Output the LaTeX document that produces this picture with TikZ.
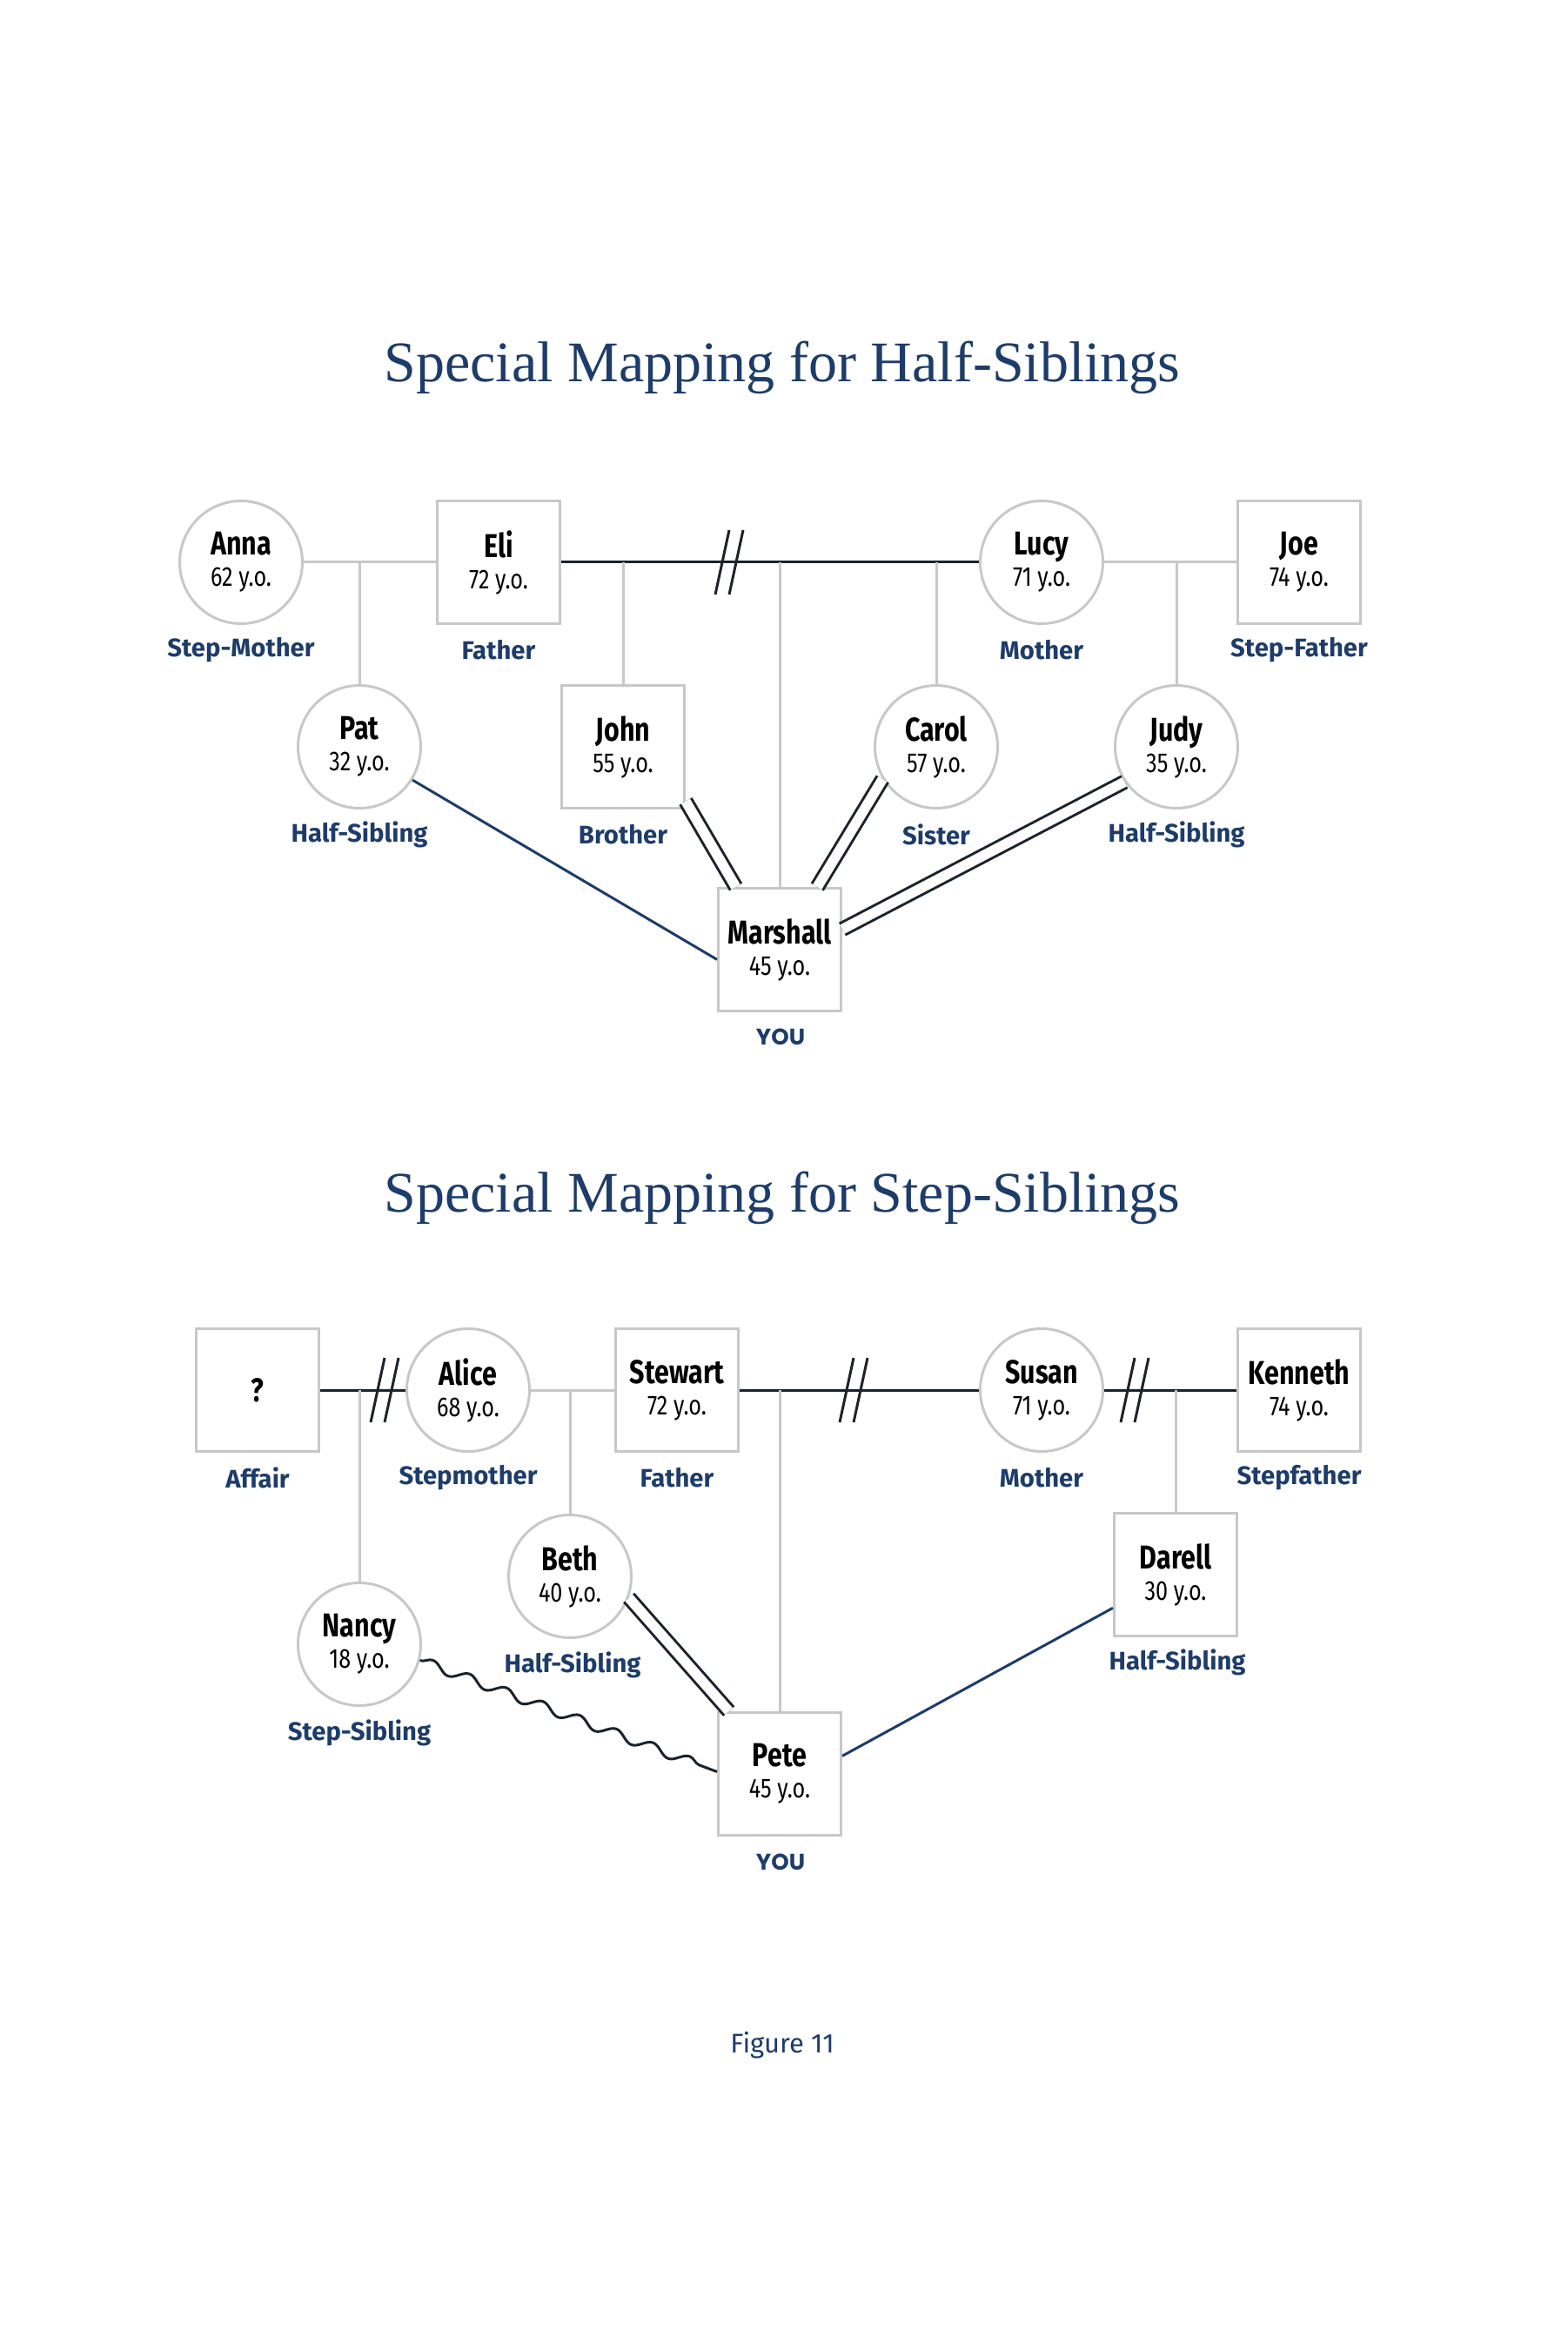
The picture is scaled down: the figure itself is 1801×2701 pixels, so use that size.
\documentclass[tikz,border=0pt]{standalone}
\usepackage{fontspec}
\setmainfont{Liberation Serif}
\newfontfamily\namefont{Fira Sans}[FakeStretch=0.8]
\newfontfamily\rolefont{Fira Sans}
\newfontfamily\youfont{Poppins}
\usetikzlibrary{positioning,decorations.pathmorphing}
\definecolor{navy}{HTML}{1D3C69}
\definecolor{kingrey}{HTML}{C8C8C8}
\definecolor{inkdark}{HTML}{1B232C}
\newcommand\pname[2]{{\bfseries\fontsize{7.6}{7.2}\selectfont #1}\\{\fontsize{6.3}{7.2}\selectfont #2 y.o.}}

\begin{document}
\begin{tikzpicture}[x=0.2pt,y=-0.2pt, male/.style={draw=kingrey, line width=0.6pt, fill=white, minimum size=28.2pt, inner sep=0pt, align=center, font=\namefont\fontsize{6.3}{7.2}\selectfont}, female/.style={male, circle}, role/.style={text=navy, font=\rolefont\bfseries\fontsize{5.85}{6.8}\selectfont}, you/.style={text=navy, font=\youfont\bfseries\fontsize{5.2}{6}\selectfont}, kin/.style={draw=kingrey, line width=0.6pt}, wed/.style={draw=inkdark, line width=0.6pt}, close/.style={draw=inkdark, line width=0.6pt, double=white, double distance=2.3pt}, half/.style={draw=navy, line width=0.6pt}, stepsib/.style={draw=inkdark, line width=0.6pt, decorate, decoration={snake, amplitude=1.1pt, segment length=9pt}}, ttl/.style={text=navy, font=\fontsize{13.2}{15}\selectfont}]
\useasboundingbox (0,0) rectangle (1801,2701);
% half-siblings
\node[ttl] (ttlhalf) at (899,422) {Special Mapping for Half-Siblings};
\node[female] (anna) at (277,646) {\pname{Anna}{62}};
\node[male] (eli) at (573,646) {\pname{Eli}{72}};
\node[female] (lucy) at (1197,646) {\pname{Lucy}{71}};
\node[male] (joe) at (1493,646) {\pname{Joe}{74}};
\node[female] (pat) at (413,858) {\pname{Pat}{32}};
\node[male] (john) at (716,858) {\pname{John}{55}};
\node[female] (carol) at (1076,858) {\pname{Carol}{57}};
\node[female] (judy) at (1352,858) {\pname{Judy}{35}};
\node[male] (marshall) at (896,1091) {\pname{Marshall}{45}};
\node[role] (ranna) at (277,747) {Step-Mother};
\node[role] (reli) at (573,747) {Father};
\node[role] (rlucy) at (1197,747) {Mother};
\node[role] (rjoe) at (1493,747) {Step-Father};
\node[role] (rpat) at (413,959) {Half-Sibling};
\node[role] (rjohn) at (716,959) {Brother};
\node[role] (rcarol) at (1076,959) {Sister};
\node[role] (rjudy) at (1352,959) {Half-Sibling};
\node[you] (ryou1) at (897,1191) {YOU};
\coordinate (ae) at (413,646);
\coordinate (el1) at (716,646);
\coordinate (el2) at (896,646);
\coordinate (el3) at (1076,646);
\coordinate (lj) at (1352,646);
\draw[kin] (anna) -- (eli);
\draw[wed] (eli) -- (lucy);
\draw[kin] (lucy) -- (joe);
\draw[kin] (ae) -- (pat);
\draw[kin] (el1) -- (john);
\draw[kin] (el2) -- (marshall);
\draw[kin] (el3) -- (carol);
\draw[kin] (lj) -- (judy);
\draw[half] (pat.-32) -- (marshall.189);
\draw[close] (john.-41) -- (marshall.125);
\draw[close] (carol.211) -- (marshall.59);
\draw[close] (judy.214) -- (marshall.18);
% step-siblings
\node[ttl] (ttlstep) at (899,1376) {Special Mapping for Step-Siblings};
\node[male] (affair) at (296,1597) {{\bfseries\fontsize{7.6}{8}\selectfont ?}};
\node[female] (alice) at (538,1597) {\pname{Alice}{68}};
\node[male] (stewart) at (778,1597) {\pname{Stewart}{72}};
\node[female] (susan) at (1197,1597) {\pname{Susan}{71}};
\node[male] (kenneth) at (1493,1597) {\pname{Kenneth}{74}};
\node[female] (nancy) at (413,1889) {\pname{Nancy}{18}};
\node[female] (beth) at (655,1811) {\pname{Beth}{40}};
\node[male] (darell) at (1351,1809) {\pname{Darell}{30}};
\node[male] (pete) at (896,2038) {\pname{Pete}{45}};
\node[role] (raffair) at (296,1698) {Affair};
\node[role] (ralice) at (538,1698) {Stepmother};
\node[role] (rstewart) at (778,1698) {Father};
\node[role] (rsusan) at (1197,1698) {Mother};
\node[role] (rkenneth) at (1493,1698) {Stepfather};
\node[role] (rnancy) at (413,1991) {Step-Sibling};
\node[role] (rbeth) at (658,1913) {Half-Sibling};
\node[role] (rdarell) at (1353,1910) {Half-Sibling};
\node[you] (ryou2) at (897,2139) {YOU};
\coordinate (aa) at (413,1597);
\coordinate (as) at (655,1597);
\coordinate (ss) at (896,1597);
\coordinate (sk) at (1351,1597);
\draw[wed] (affair) -- (alice);
\draw[kin] (alice) -- (stewart);
\draw[wed] (stewart) -- (susan);
\draw[wed] (susan) -- (kenneth);
\draw[kin] (aa) -- (nancy);
\draw[kin] (as) -- (beth);
\draw[kin] (ss) -- (pete);
\draw[kin] (sk) -- (darell);
\draw[stepsib] (nancy.-15) -- (pete.178);
\draw[close] (beth.-20) -- (pete.129);
\draw[half] (darell.208) -- (pete.16);
% divorce marks
\foreach \bx/\by in {838/646, 442/1597, 981/1597, 1304/1597}
  \foreach \dx in {-8,8}
    \draw[wed] (\bx+\dx-8,\by+37) -- (\bx+\dx+8,\by-37);
\node[text=navy, font=\rolefont\fontsize{6.2}{7}\selectfont] (fig) at (899,2350) {Figure 11};
\end{tikzpicture}
\end{document}
